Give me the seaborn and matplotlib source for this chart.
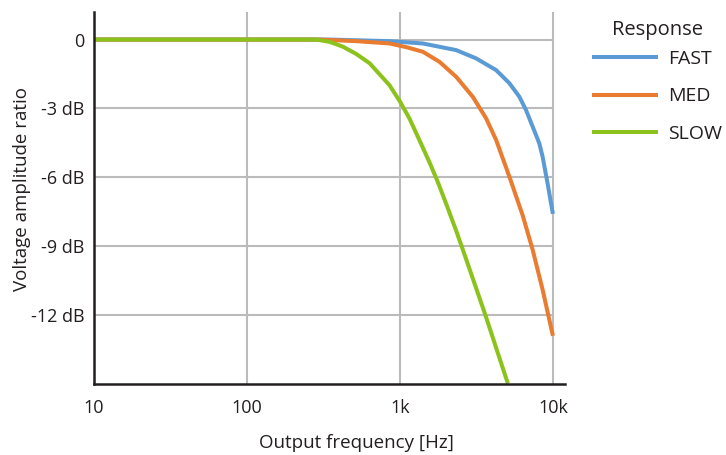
import numpy as np
import pandas as pd
import seaborn as sns
import matplotlib.pyplot as plt
from matplotlib.ticker import NullLocator

# values (frequency in Hz, level in dB)
fast_f = [10, 347, 855, 1411, 2331, 3148, 4253, 5194, 6036, 6673, 7372, 8150, 8566, 9235, 10000]
fast_db = [0, 0, -0.07, -0.17, -0.46, -0.82, -1.33, -1.90, -2.49, -3.07, -3.79, -4.52, -5.10,
           -6.27, -7.59]

med_f = [10, 299, 519, 855, 1099, 1411, 1814, 2331, 2992, 3659, 4253, 5194, 6342, 7372, 8566, 10000]
med_db = [0, 0, -0.07, -0.17, -0.33, -0.53, -0.97, -1.62, -2.49, -3.43, -4.37, -5.97, -7.65, -9.15,
          -10.89, -12.9]

slow_f = [10, 284, 347, 424, 519, 633, 736, 855, 1005, 1155, 1343, 1561, 1768, 2005, 2331, 2641,
          3621, 5077]
slow_db = [0, 0, -0.10, -0.31, -0.63, -1.03, -1.51, -1.99, -2.72, -3.44, -4.39, -5.35, -6.2, -7.15,
           -8.32, -9.35, -12.0, -14.98]

responses = ['FAST', 'MED', 'SLOW']
colors = ['#5B9BD5', '#E97C30', '#8CC21C']

x_ticks = [10, 100, 1000, 10000]
x_labels = ['10', '100', '1k', '10k']
y_ticks = [0, -3, -6, -9, -12]
y_labels = ['0', '-3 dB', '-6 dB', '-9 dB', '-12 dB']

df = pd.concat([
    pd.DataFrame({'freq': fast_f, 'dB': fast_db, 'Response': 'FAST'}),
    pd.DataFrame({'freq': med_f, 'dB': med_db, 'Response': 'MED'}),
    pd.DataFrame({'freq': slow_f, 'dB': slow_db, 'Response': 'SLOW'}),
])

sns.set_style('white')
plt.rcParams['font.family'] = ['Open Sans', 'DejaVu Sans']
ink = '#231F20'
grid_c = '#BBBBBB'

fig = plt.figure(figsize=(7.26, 4.55), dpi=100)
ax = fig.add_axes([94 / 726, 71 / 455, 471 / 726, 372 / 455])
ax.set_xscale('log')

sns.lineplot(data=df, x='freq', y='dB', hue='Response', hue_order=responses,
             palette=dict(zip(responses, colors)), linewidth=2.9, errorbar=None,
             ax=ax, zorder=3, solid_capstyle='butt', solid_joinstyle='round')

ax.set_xlim(10, 12000)
ax.set_ylim(-15, 1.2)

# grid: vertical lines full height, horizontal lines stop at 10k
ax.xaxis.set_minor_locator(NullLocator())
ax.set_xticks(x_ticks)
ax.set_xticklabels(x_labels)
ax.set_yticks(y_ticks)
ax.set_yticklabels(y_labels)
ax.grid(axis='x', color=grid_c, linewidth=1.5, zorder=1)
ax.hlines(y_ticks, 10, 10000, color=grid_c, linewidth=1.5, zorder=1)

for s in ['top', 'right']:
    ax.spines[s].set_visible(False)
for s in ['left', 'bottom']:
    ax.spines[s].set_color(ink)
    ax.spines[s].set_linewidth(1.8)
    ax.spines[s].set_zorder(4)

ax.tick_params(axis='both', length=0, labelsize=13, colors=ink)
ax.tick_params(axis='x', pad=11)
ax.tick_params(axis='y', pad=7)

ax.set_xlabel('Output frequency [Hz]', fontsize=13.5, color=ink)
ax.set_ylabel('Voltage amplitude ratio', fontsize=13.5, color=ink)
ax.xaxis.set_label_coords(0.558, -0.135)
ax.yaxis.set_label_coords(-0.134, 0.524)

leg = ax.legend(loc='upper left', bbox_to_anchor=(592 / 726, 1 - 50 / 455),
                bbox_transform=fig.transFigure, frameon=False, fontsize=14,
                handlelength=3.4, handletextpad=0.5, labelspacing=1.0, borderpad=0,
                borderaxespad=0)
for line in leg.get_lines():
    line.set_linewidth(2.9)
for t in leg.get_texts():
    t.set_color(ink)
fig.text(657 / 726, 1 - 35 / 455, 'Response', ha='center', va='baseline', fontsize=14.5, color=ink)

fig.savefig('out.png', dpi=100)
